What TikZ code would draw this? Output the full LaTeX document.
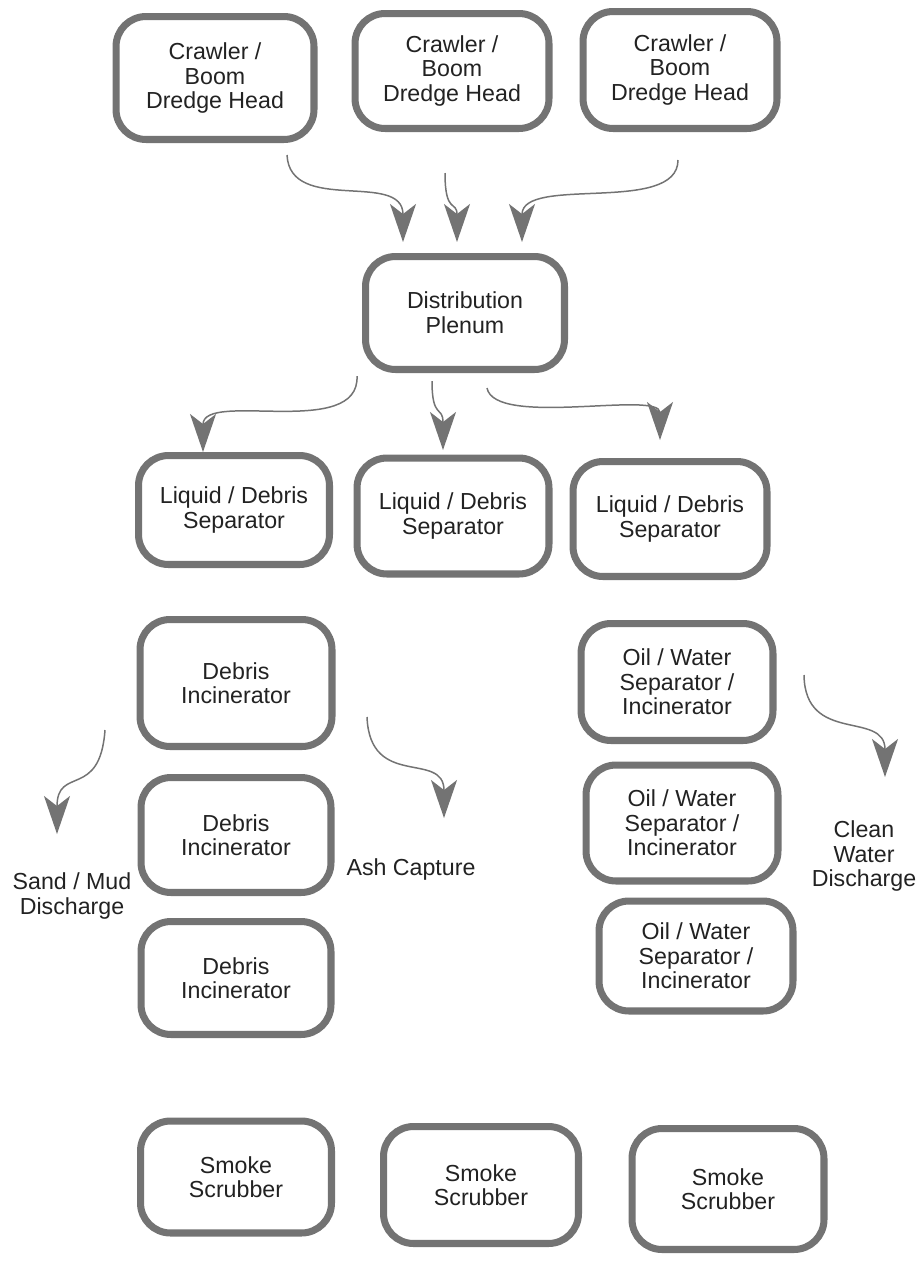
\documentclass[tikz,border=0pt]{standalone}
\usepackage{fontspec}
\setmainfont{Liberation Sans}
\usetikzlibrary{arrows.meta}
\definecolor{rim}{HTML}{737373}
\definecolor{ink}{HTML}{222222}
\begin{document}
\begin{tikzpicture}[x=0.02cm, y=-0.02cm, font=\fontsize{13.2}{14}\selectfont,
		box/.style={draw=rim, line width=4pt, rounded corners=0.6cm, fill=white, align=center, text=ink, inner sep=2pt},
		flow/.style={draw=rim, line width=0.85pt, -{Stealth[length=0.76cm, width=0.52cm, inset=0.2cm, fill=rim]}},
		note/.style={align=center, text=ink}]
		\useasboundingbox (0, 0) rectangle (920, 1265);
		% units: centre x, centre y, outer width, outer height, name, text
		\foreach \x/\y/\w/\h/\n/\t in {
			215/78/205/130/head1/{Crawler /\\Boom\\Dredge Head},
			452/71/201/122/head2/{Crawler /\\Boom\\Dredge Head},
			680/70/201/124/head3/{Crawler /\\Boom\\Dredge Head},
			465/313/206/120/plenum/{Distribution\\Plenum},
			234/510/198/116/sep1/{Liquid / Debris\\Separator},
			453/516/199/123/sep2/{Liquid / Debris\\Separator},
			670/519/201/122/sep3/{Liquid / Debris\\Separator},
			236/683/199/134/inc1/{Debris\\Incinerator},
			236/835/197/122/inc2/{Debris\\Incinerator},
			236/978/197/120/inc3/{Debris\\Incinerator},
			677/682/199/124/ows1/{Oil / Water\\Separator /\\Incinerator},
			682/823/199/123/ows2/{Oil / Water\\Separator /\\Incinerator},
			696/956/201/117/ows3/{Oil / Water\\Separator /\\Incinerator},
			236/1177/198/119/scrub1/{Smoke\\Scrubber},
			481/1185/202/124/scrub2/{Smoke\\Scrubber},
			728/1189/199/128/scrub3/{Smoke\\Scrubber}}
			\node[box, minimum width=\w*0.02cm-4pt, minimum height=\h*0.02cm-4pt] (\n) at (\x, \y) {\t};
		% discharges
		\node[note] (sand) at (72, 896) {Sand / Mud\\Discharge};
		\node[note] (ash) at (411, 869) {Ash Capture};
		\node[note] (water) at (864, 856) {Clean\\Water\\Discharge};
		% free ends of the flows
		\foreach \p/\x/\y in {s1/287/155, t1/403/242, s2/445/173, t2/457/242, s3/678/160, t3/522/242,
			s4/357/376, t4/203/452, s5/432/381, t5/443/450, s6/487/388, t6/660/440,
			s7/105/730, t7/57/834, s8/367/717, t8/444/818, s9/804/675, t9/885/777}
			\coordinate (\p) at (\x, \y);
		% heads into the plenum
		\draw[flow] (s1) .. controls (290, 215) and (403, 170) .. (t1);
		\draw[flow] (s2) .. controls (445, 215) and (457, 200) .. (t2);
		\draw[flow] (s3) .. controls (678, 215) and (522, 175) .. (t3);
		% plenum into the separators
		\draw[flow] (s4) .. controls (360, 440) and (203, 390) .. (t4);
		\draw[flow] (s5) .. controls (432, 420) and (443, 405) .. (t5);
		\draw[flow] (s6) .. controls (495, 428) and (660, 390) .. (t6);
		% discharges
		\draw[flow] (s7) .. controls (100, 800) and (57, 765) .. (t7);
		\draw[flow] (s8) .. controls (370, 790) and (444, 750) .. (t8);
		\draw[flow] (s9) .. controls (805, 745) and (885, 710) .. (t9);
	\end{tikzpicture}
\end{document}
